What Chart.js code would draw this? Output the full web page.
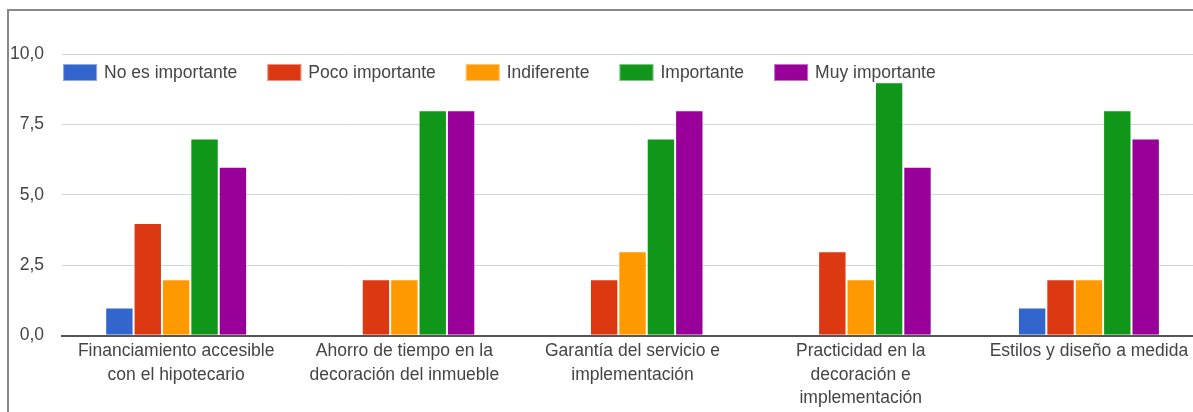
<!DOCTYPE html>
<html>
<head>
<meta charset="utf-8">
<script src="https://cdn.jsdelivr.net/npm/chart.js@4/dist/chart.umd.min.js"></script>
<style>
  html, body { margin: 0; padding: 0; background: #fff; overflow: hidden; width: 1193px; height: 412px; }
  #frame { position: absolute; left: 7px; top: 9px; width: 1300px; height: 500px; border-top: 2px solid #8a8a8a; border-left: 2px solid #8a8a8a; }
  #c { position: absolute; left: -19px; top: 0; }
</style>
</head>
<body>
<div id="frame"></div>
<canvas id="c" width="1222" height="414"></canvas>
<script>
const categories = [
  ['Financiamiento accesible', 'con el hipotecario'],
  ['Ahorro de tiempo en la', 'decoración del inmueble'],
  ['Garantía del servicio e', 'implementación'],
  ['Practicidad en la', 'decoración e', 'implementación'],
  ['Estilos y diseño a medida']
];
const seriesNames = ['No es importante', 'Poco importante', 'Indiferente', 'Importante', 'Muy importante'];
const seriesColors = ['#3366cc', '#dc3912', '#ff9900', '#109618', '#990099'];
const noEsImportante = [1, 0, 0, 0, 1];
const pocoImportante = [4, 2, 2, 3, 2];
const indiferente = [2, 2, 3, 2, 2];
const importante = [7, 8, 7, 9, 8];
const muyImportante = [6, 8, 8, 6, 7];
const yTickStep = 2.5;

const seriesValues = [noEsImportante, pocoImportante, indiferente, importante, muyImportante];
const FONT = "'Liberation Sans', Arial, sans-serif";
const FS = 17.5;

// Legend drawn inside the plot area (like the original), from the dataset labels/colours
const insideLegend = {
  id: 'insideLegend',
  afterDatasetsDraw(chart) {
    const ctx = chart.ctx;
    const area = chart.chartArea;
    const boxW = 34, boxH = 17, pad = 30;
    let x = area.left + 1;
    const y = area.top + 10;
    ctx.save();
    ctx.font = FS + 'px ' + FONT;
    ctx.textBaseline = 'middle';
    ctx.textAlign = 'left';
    chart.data.datasets.forEach(ds => {
      ctx.fillStyle = ds.backgroundColor;
      ctx.fillRect(x, y, boxW, boxH);
      ctx.strokeStyle = 'rgba(255,255,255,0.45)';
      ctx.lineWidth = 1;
      ctx.strokeRect(x + 0.5, y + 0.5, boxW - 1, boxH - 1);
      ctx.fillStyle = '#444';
      const tx = x + 41;
      ctx.fillText(ds.label, tx, y + boxH / 2 + 1);
      x = tx + ctx.measureText(ds.label).width + pad;
    });
    ctx.restore();
  }
};

new Chart(document.getElementById('c'), {
  type: 'bar',
  data: {
    labels: categories,
    datasets: seriesNames.map((name, i) => ({
      label: name,
      data: seriesValues[i],
      backgroundColor: seriesColors[i],
      borderColor: 'rgba(255,255,255,0.45)',
      borderWidth: 1,
      categoryPercentage: 0.622,
      barPercentage: 1.0
    }))
  },
  options: {
    responsive: false,
    animation: false,
    devicePixelRatio: 1,
    layout: { padding: { left: 11, right: 0, top: 54, bottom: 0 } },
    plugins: {
      tooltip: { enabled: false },
      legend: { display: false }
    },
    scales: {
      x: {
        grid: { display: false, drawTicks: false },
        border: { display: true, color: '#555', width: 2 },
        ticks: {
          color: '#444',
          font: { family: FONT, size: FS, lineHeight: 1.34 },
          padding: 4,
          maxRotation: 0,
          autoSkip: false
        }
      },
      y: {
        min: 0,
        max: 10,
        grid: {
          drawTicks: false,
          color: ctx => (ctx.tick && ctx.tick.value === 0) ? '#555' : '#d4d4d4',
          lineWidth: ctx => (ctx.tick && ctx.tick.value === 0) ? 2 : 1
        },
        border: { display: false },
        ticks: {
          stepSize: yTickStep,
          color: '#444',
          padding: 18,
          font: { family: FONT, size: FS },
          callback: v => Number(v).toFixed(1).replace('.', ',')
        }
      }
    }
  },
  plugins: [insideLegend]
});
</script>
</body>
</html>
